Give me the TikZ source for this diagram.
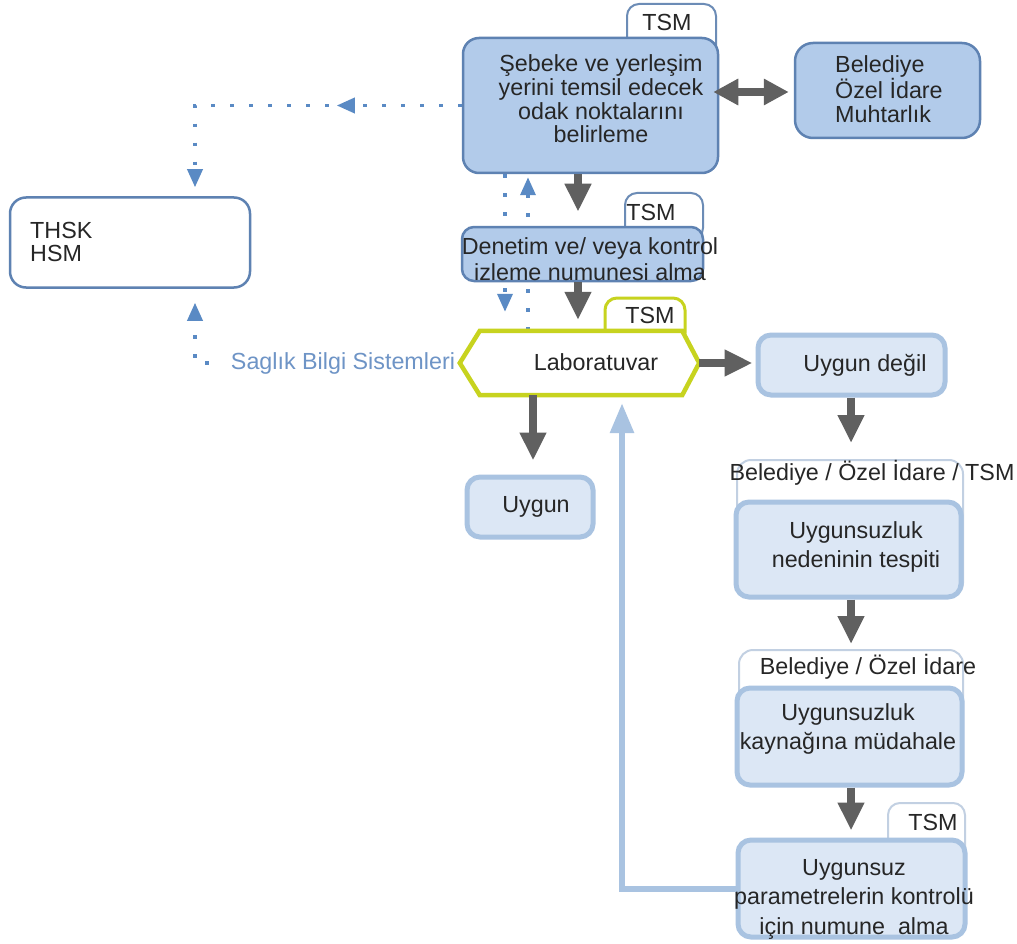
\documentclass[tikz,border=0pt]{standalone}
\usepackage{fontspec}
\setmainfont{Liberation Sans}
\usetikzlibrary{arrows.meta,decorations.markings,backgrounds}

\definecolor{midfill}{HTML}{B2CBEA}
\definecolor{midline}{HTML}{5E82B2}
\definecolor{litefill}{HTML}{DCE7F5}
\definecolor{liteline}{HTML}{A9C3E1}
\definecolor{tabline}{HTML}{C2D0E2}
\definecolor{darktab}{HTML}{6C8CB6}
\definecolor{flowgray}{HTML}{606060}
\definecolor{dotblue}{HTML}{5A8AC4}
\definecolor{labgreen}{HTML}{C7D31F}
\definecolor{txtc}{HTML}{262626}
\definecolor{infoblue}{HTML}{6E94C6}

\tikzset{
  sz/.style 2 args={minimum width=#1pt, minimum height=#2pt},
  midbox/.style={draw=midline, fill=midfill, line width=2.5pt, rounded corners=16pt, inner sep=0pt},
  litebox/.style={draw=liteline, fill=litefill, line width=5pt, rounded corners=13pt, inner sep=0pt},
  tabbox/.style={draw=#1, fill=white, line width=2pt, rounded corners=12pt, inner sep=0pt},
  txt/.style={font=\fontsize{23.3}{#1}\selectfont, text=txtc, align=center, inner sep=0pt},
  txt/.default=24,
  flow/.style={draw=flowgray, line width=8pt, -{Triangle[length=28pt,width=25pt]}},
  ret/.style={draw=liteline, line width=6pt, -{Triangle[length=30pt,width=23pt]}},
  dotline/.style={draw=dotblue, line width=3.5pt, dash pattern=on 3.5pt off 15.5pt,
    -{Triangle[length=18pt,width=15pt]}},
  midarrow/.style={postaction={decorate, decoration={markings,
    mark=at position #1 with {\arrow{Triangle[length=18pt,width=15pt]}}}}},
  labline/.style={draw=labgreen, fill=white, line width=4.5pt, line join=miter},
}

\begin{document}
\begin{tikzpicture}[x=1pt,y=-1pt]
\useasboundingbox (0,0) rectangle (1017,944);

% column positions of the vertical connectors
\coordinate (xa) at (578,0);
\coordinate (xe) at (851,0);
\coordinate (xu) at (533,0);
\coordinate (xr) at (622,0);
\coordinate (xl) at (505,0);
\coordinate (xq) at (528,0);
\coordinate (xc) at (195,0);
\coordinate (ydb) at (0,92);

% --- selecting the focal points
\node[tabbox=darktab, sz={89}{56}] (At) at (671.5,32) {};
\node[midbox, sz={255}{135}] (A) at (590.5,105.5) {};
\node[txt] (tAt) at (667,22) {TSM};
\node[txt=23.7] (tA) at (601,99) {Şebeke ve yerleşim\\yerini temsil edecek\\odak noktalarını\\belirleme};

% --- local authorities
\node[midbox, sz={185}{95}, rounded corners=18pt] (B) at (887.5,90.5) {};
\node[txt=24, align=left, anchor=west] (tB) at (835,89) {Belediye\\Özel İdare\\Muhtarlık};

% --- reporting
\node[draw=midline, fill=white, line width=2.5pt, rounded corners=16pt, inner sep=0pt, sz={240}{90}] (C) at (130,242.5) {};
\node[txt=23, align=left, anchor=west] (tC) at (30,242) {THSK\\HSM};
\node[txt, text=infoblue] (S) at (343,363) {Saglık Bilgi Sistemleri};

% --- sampling
\node[tabbox=darktab, sz={78}{47}] (Dt) at (664,216.5) {};
\node[midbox, sz={241}{54}, rounded corners=12pt] (D) at (582.5,254) {};
\node[txt] (tDt) at (651,212) {TSM};
\node[txt=26] (tD) at (590,259) {Denetim ve/ veya kontrol\\izleme numunesi alma};

% --- laboratory
\node[tabbox=labgreen, line width=3pt, sz={80}{47}] (Lt) at (645,321.5) {};
\node[inner sep=0pt, sz={239}{64}] (L) at (579.5,363) {};
\draw[labline] (L.west) -- ([xshift=20pt]L.north west) -- ([xshift=-17pt]L.north east)
  -- (L.east) -- ([xshift=-17pt]L.south east) -- ([xshift=20pt]L.south west) -- cycle;
\node[txt] (tLt) at (650,315) {TSM};
\node[txt] (tL) at (596,362) {Laboratuvar};

% --- results
\node[litebox, sz={187}{60}] (UD) at (851.5,365) {};
\node[txt] (tUD) at (865,365) {Uygun değil};
\node[litebox, sz={126}{60}] (U) at (530,507) {};
\node[txt] (tU) at (536,507) {Uygun};

% --- corrective chain
\node[tabbox=tabline, sz={226}{137}, rounded corners=14pt] (Et) at (850,528.5) {};
\node[litebox, sz={225}{95}] (E) at (848.5,549.5) {};
\node[txt] (tEt) at (872,473) {Belediye / Özel İdare / TSM};
\node[txt=29] (tE) at (856,547) {Uygunsuzluk\\nedeninin tespiti};

\node[tabbox=tabline, sz={224}{135}, rounded corners=14pt] (Ft) at (851,717.5) {};
\node[litebox, sz={225}{97}] (F) at (849.5,736.5) {};
\node[txt] (tFt) at (868,667) {Belediye / Özel İdare};
\node[txt=29] (tF) at (848,729) {Uygunsuzluk\\kaynağına müdahale};

\node[tabbox=tabline, sz={77}{57}] (Gt) at (926.5,831.5) {};
\node[litebox, sz={227}{97}] (G) at (851.5,888.5) {};
\node[txt] (tGt) at (933,822) {TSM};
\node[txt=29.5] (tG) at (854,899) {Uygunsuz\\parametrelerin kontrolü\\için numune\ \ alma};

% --- main flow
\draw[flow, shorten >=14pt] (A.south -| xa) -- (D.north -| xa);
\draw[flow, shorten >=11pt] (D.south -| xa) -- (L.north -| xa);
\draw[flow, shorten >=3pt] (L.east) -- (L.east -| UD.west);
\draw[flow, shorten >=14pt] (L.south -| xu) -- (U.north -| xu);
\draw[flow, shorten >=16pt] (UD.south -| xe) -- (Et.north -| xe);
\draw[flow, shorten >=5pt] (E.south -| xe) -- (Ft.north -| xe);
\draw[flow, shorten >=7pt] (F.south -| xe) -- (G.north -| xe);
\draw[flow, {Triangle[length=25pt,width=25pt]}-{Triangle[length=25pt,width=25pt]},
  shorten <=-6pt, shorten >=5pt] (A.east |- ydb) -- (B.west |- ydb);
\draw[ret, shorten >=8pt] (G.west) -| (L.south -| xr);

% --- information flow (behind the boxes)
\begin{pgfonlayer}{background}
\fill[white] (0,0) rectangle (1017,944);
\draw[dotline, midarrow=125pt, shorten >=9pt] (A.west) -| (C.north -| xc);
\draw[dotline, shorten <=22pt, shorten >=14pt] (S.west) -| (C.south -| xc);
\draw[dotline, shorten >=19pt] (A.south -| xl) -- (L.north -| xl);
\draw[dotline, shorten >=3pt] (L.north -| xq) -- (A.south -| xq);
\end{pgfonlayer}
\end{tikzpicture}
\end{document}
